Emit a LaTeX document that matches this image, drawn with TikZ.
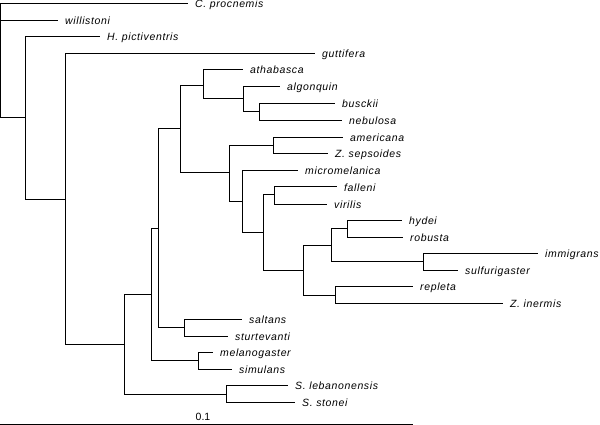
\documentclass[tikz,border=0pt]{standalone}
\usepackage{fontspec}
\setmainfont{Liberation Sans}
\newfontfamily\taxfont[LetterSpace=6]{Liberation Sans}
\begin{document}
\begin{tikzpicture}[x=1pt,y=-1pt,
  branch/.style={draw=black,line width=1pt},
  taxon/.style={anchor=base west,inner sep=0pt,xshift=7pt,yshift=-4pt,
    font=\taxfont\itshape\fontsize{10.5}{12}\selectfont},
  scalelabel/.style={inner sep=0pt,font=\fontsize{10.5}{12}\selectfont}]
\useasboundingbox (0,0) rectangle (600,425);
% internal nodes
\coordinate (root) at (0.5,61);
\coordinate (nA) at (25,118);
\coordinate (nB) at (65,199);
\coordinate (nC) at (124,344);
\coordinate (nD) at (151,294);
\coordinate (nE) at (158,228);
\coordinate (nF) at (180,129);
\coordinate (nG) at (203,86);
\coordinate (nI) at (243,99);
\coordinate (nJ) at (259,112);
\coordinate (nH) at (229,173);
\coordinate (nAm) at (273,146);
\coordinate (nK) at (242,201);
\coordinate (nL) at (263,232);
\coordinate (nFV) at (274,195);
\coordinate (nM) at (303,270);
\coordinate (nN) at (331,245);
\coordinate (nQ) at (347,228);
\coordinate (nR) at (423,261);
\coordinate (nP) at (335,295);
\coordinate (nSS) at (184,327);
\coordinate (nMS) at (198,360);
\coordinate (nSt) at (226,394);
% tips
\coordinate (tCproc) at (188,4);
\coordinate (twill) at (58,21);
\coordinate (tHpic) at (100,37);
\coordinate (tgutt) at (315,54);
\coordinate (tatha) at (243,70);
\coordinate (talgo) at (280,87);
\coordinate (tbusc) at (335,104);
\coordinate (tnebu) at (342,121);
\coordinate (tamer) at (343,138);
\coordinate (tZsep) at (328,154);
\coordinate (tmicr) at (298,171);
\coordinate (tfall) at (337,187);
\coordinate (tviri) at (327,204);
\coordinate (thyde) at (402,220);
\coordinate (trobu) at (403,237);
\coordinate (timmi) at (538,253);
\coordinate (tsulf) at (458,270);
\coordinate (trepl) at (413,286);
\coordinate (tZine) at (503,303);
\coordinate (tsalt) at (242,319);
\coordinate (tstur) at (228,336);
\coordinate (tmela) at (213,352);
\coordinate (tsimu) at (232,369);
\coordinate (tSleb) at (288,385);
\coordinate (tSsto) at (295,402);
% labels
\node[taxon] (lCproc) at (tCproc) {C. procnemis};
\node[taxon] (lwill) at (twill) {willistoni};
\node[taxon] (lHpic) at (tHpic) {H. pictiventris};
\node[taxon] (lgutt) at (tgutt) {guttifera};
\node[taxon] (latha) at (tatha) {athabasca};
\node[taxon] (lalgo) at (talgo) {algonquin};
\node[taxon] (lbusc) at (tbusc) {busckii};
\node[taxon] (lnebu) at (tnebu) {nebulosa};
\node[taxon] (lamer) at (tamer) {americana};
\node[taxon] (lZsep) at (tZsep) {Z. sepsoides};
\node[taxon] (lmicr) at (tmicr) {micromelanica};
\node[taxon] (lfall) at (tfall) {falleni};
\node[taxon] (lviri) at (tviri) {virilis};
\node[taxon] (lhyde) at (thyde) {hydei};
\node[taxon] (lrobu) at (trobu) {robusta};
\node[taxon] (limmi) at (timmi) {immigrans};
\node[taxon] (lsulf) at (tsulf) {sulfurigaster};
\node[taxon] (lrepl) at (trepl) {repleta};
\node[taxon] (lZine) at (tZine) {Z. inermis};
\node[taxon] (lsalt) at (tsalt) {saltans};
\node[taxon] (lstur) at (tstur) {sturtevanti};
\node[taxon] (lmela) at (tmela) {melanogaster};
\node[taxon] (lsimu) at (tsimu) {simulans};
\node[taxon] (lSleb) at (tSleb) {S. lebanonensis};
\node[taxon] (lSsto) at (tSsto) {S. stonei};
% branches
\draw[branch] (root) |- (tCproc);
\draw[branch] (root) |- (twill);
\draw[branch] (root) |- (nA);
\draw[branch] (nA) |- (tHpic);
\draw[branch] (nA) |- (nB);
\draw[branch] (nB) |- (tgutt);
\draw[branch] (nB) |- (nC);
\draw[branch] (nC) |- (nD);
\draw[branch] (nC) |- (nSt);
\draw[branch] (nD) |- (nE);
\draw[branch] (nD) |- (nMS);
\draw[branch] (nE) |- (nF);
\draw[branch] (nE) |- (nSS);
\draw[branch] (nF) |- (nG);
\draw[branch] (nF) |- (nH);
\draw[branch] (nG) |- (tatha);
\draw[branch] (nG) |- (nI);
\draw[branch] (nI) |- (talgo);
\draw[branch] (nI) |- (nJ);
\draw[branch] (nJ) |- (tbusc);
\draw[branch] (nJ) |- (tnebu);
\draw[branch] (nH) |- (nAm);
\draw[branch] (nH) |- (nK);
\draw[branch] (nAm) |- (tamer);
\draw[branch] (nAm) |- (tZsep);
\draw[branch] (nK) |- (tmicr);
\draw[branch] (nK) |- (nL);
\draw[branch] (nL) |- (nFV);
\draw[branch] (nL) |- (nM);
\draw[branch] (nFV) |- (tfall);
\draw[branch] (nFV) |- (tviri);
\draw[branch] (nM) |- (nN);
\draw[branch] (nM) |- (nP);
\draw[branch] (nN) |- (nQ);
\draw[branch] (nN) |- (nR);
\draw[branch] (nQ) |- (thyde);
\draw[branch] (nQ) |- (trobu);
\draw[branch] (nR) |- (timmi);
\draw[branch] (nR) |- (tsulf);
\draw[branch] (nP) |- (trepl);
\draw[branch] (nP) |- (tZine);
\draw[branch] (nSS) |- (tsalt);
\draw[branch] (nSS) |- (tstur);
\draw[branch] (nMS) |- (tmela);
\draw[branch] (nMS) |- (tsimu);
\draw[branch] (nSt) |- (tSleb);
\draw[branch] (nSt) |- (tSsto);
% scale bar
\coordinate (sb0) at (0,424);
\coordinate (sb1) at (413,424);
\draw[branch] (sb0) -- (sb1);
\node[scalelabel] (sbl) at (203,417) {0.1};
\end{tikzpicture}
\end{document}
